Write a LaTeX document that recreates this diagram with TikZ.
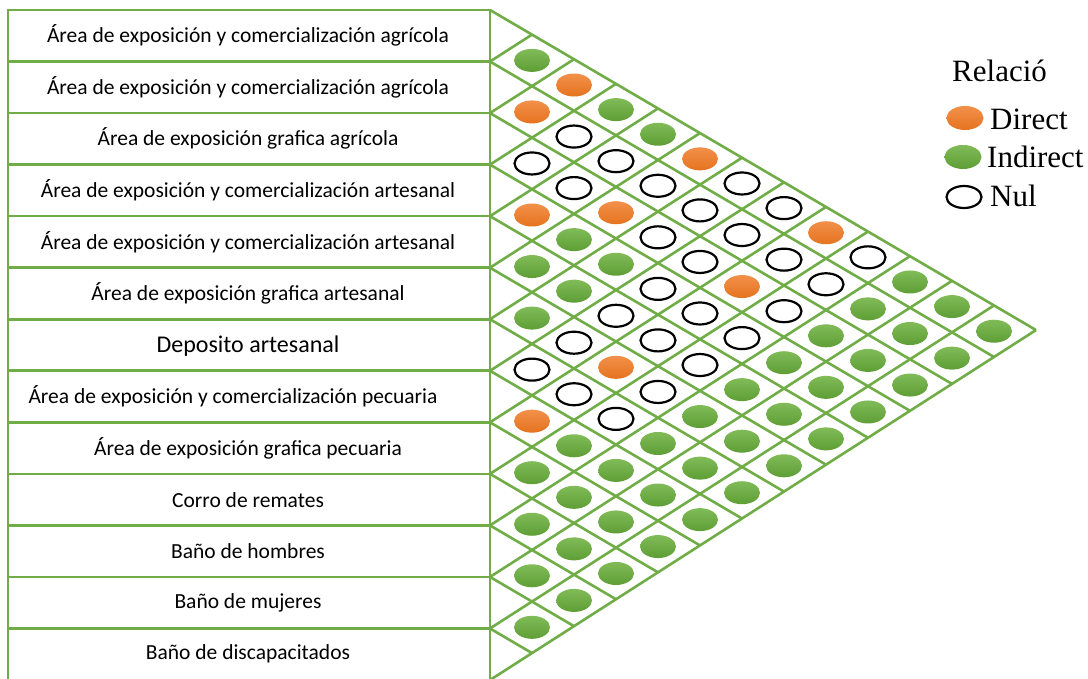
\documentclass[tikz,border=0pt]{standalone}
\usepackage{fontspec}
\setmainfont{Carlito}
\newfontfamily\legfont{Liberation Serif}
\usetikzlibrary{shapes.geometric}
\definecolor{gline}{HTML}{70AD47}
\definecolor{gtop}{HTML}{80BB58}
\definecolor{gbot}{HTML}{5E9E35}
\definecolor{otop}{HTML}{F2904A}
\definecolor{obot}{HTML}{E5731F}
\begin{document}
\begin{tikzpicture}[x=1pt,y=-1pt,
  gridline/.style={draw=gline,line width=2.6pt},
  dotbase/.style={ellipse,minimum width=36pt,minimum height=23pt,inner sep=0pt},
  gdot/.style={dotbase,top color=gtop,bottom color=gbot,draw=none},
  odot/.style={dotbase,top color=otop,bottom color=obot,draw=none},
  wdot/.style={dotbase,minimum width=35pt,minimum height=22pt,draw=black,line width=2.2pt,fill=white},
  lab/.style={font=\fontsize{21.5}{25}\selectfont,inner sep=0pt},
  biglab/.style={font=\fontsize{24}{28}\selectfont,inner sep=0pt},
  leg/.style={font=\legfont\fontsize{31}{36}\selectfont,inner sep=0pt,anchor=base west}]
\useasboundingbox (0,0) rectangle (1088,679);
\fill[white] (0,0) rectangle (1088,679);
% label column
\draw[gridline] (8,10) rectangle (490,680.02);
\foreach \k in {1,...,12} {
  \draw[gridline] (8,{10+51.54*\k}) -- (490,{10+51.54*\k});
}
% triangular matrix grid
\foreach \k in {0,...,13} {
  \draw[gridline] (490,{10+51.54*\k}) -- ++({42*(13-\k)},{24.62*(13-\k)});
  \draw[gridline] (490,{10+51.54*\k}) -- ++({42*\k},{-26.92*\k});
}
% labels
\node[lab] (r1) at (248,{10+51.54*0.5}) {Área de exposición y comercialización agrícola};
\node[lab] (r2) at (248,{10+51.54*1.5}) {Área de exposición y comercialización agrícola};
\node[lab] (r3) at (248,{10+51.54*2.5}) {Área de exposición grafica agrícola};
\node[lab] (r4) at (248,{10+51.54*3.5}) {Área de exposición y comercialización artesanal};
\node[lab] (r5) at (248,{10+51.54*4.5}) {Área de exposición y comercialización artesanal};
\node[lab] (r6) at (248,{10+51.54*5.5}) {Área de exposición grafica artesanal};
\node[biglab] (r7) at (248,{10+51.54*6.5+1}) {Deposito artesanal};
\node[lab] (r8) at (233,{10+51.54*7.5}) {Área de exposición y comercialización pecuaria};
\node[lab] (r9) at (248,{10+51.54*8.5}) {Área de exposición grafica pecuaria};
\node[lab] (r10) at (248,{10+51.54*9.5}) {Corro de remates};
\node[lab] (r11) at (248,{10+51.54*10.5}) {Baño de hombres};
\node[lab] (r12) at (248,{10+51.54*11.5}) {Baño de mujeres};
\node[lab] (r13) at (248,{10+51.54*12.5}) {Baño de discapacitados};
% relation dots
\foreach \i/\j in {1/2,1/4,1/5,4/6,5/6,4/7,5/7,1/11,6/7,2/11,1/12,3/11,2/12,1/13,4/11,3/12,2/13,5/11,4/12,3/13,6/11,5/12,4/13,8/10,7/11,6/12,5/13,9/10,8/11,7/12,6/13,9/11,8/12,7/13,10/11,9/12,8/13,10/12,9/13,11/12,10/13,11/13,12/13}
  \node[gdot] (c\i-\j) at ({490+42*(\j-\i)},{10+51.54*(\i-0.5)+24.62*(\j-\i)}) {};
\foreach \i/\j in {1/3,2/3,1/6,4/5,3/6,1/9,3/9,6/9,8/9}
  \node[odot] (c\i-\j) at ({490+42*(\j-\i)},{10+51.54*(\i-0.5)+24.62*(\j-\i)}) {};
\foreach \i/\j in {2/4,3/4,2/5,3/5,2/6,1/7,2/7,1/8,3/7,2/8,3/8,2/9,1/10,4/8,2/10,5/8,4/9,3/10,6/8,5/9,4/10,7/8,5/10,7/9,6/10,7/10}
  \node[wdot] (c\i-\j) at ({490+42*(\j-\i)},{10+51.54*(\i-0.5)+24.62*(\j-\i)}) {};
% legend
\node[leg] (lt) at (952,82) {Relació};
\node[odot,minimum width=37pt,minimum height=24pt] (lo) at (965,118) {};
\node[leg] (ld) at (990,130) {Direct};
\node[gdot,minimum width=37pt,minimum height=24pt] (lg) at (963,157) {};
\node[leg] (li) at (987,168) {Indirect};
\node[wdot] (lw) at (964,197) {};
\node[leg] (ln) at (990,207) {Nul};
\end{tikzpicture}
\end{document}
